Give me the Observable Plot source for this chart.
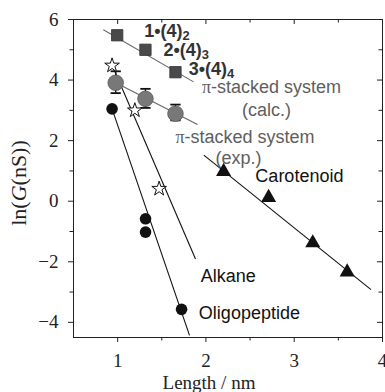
<!DOCTYPE html>
<html>
<head>
<meta charset="utf-8">
<script src="https://cdn.jsdelivr.net/npm/d3@7"></script>
<script src="https://cdn.jsdelivr.net/npm/@observablehq/plot@0.6"></script>
<style>
  body { margin: 0; background: #fff; }
  #chart svg { display: block; }
</style>
</head>
<body>
<div id="chart"></div>
<script>
// π-stacked system, calculated conductance (squares)
const calcLength = [0.995, 1.315, 1.655];
const calcLnG = [5.48, 5.0, 4.26];

// π-stacked system, measured conductance (circles with error bars)
const expLength = [0.978, 1.315, 1.655];
const expLnG = [3.91, 3.38, 2.89];
const expLow = [3.57, 3.08, 2.67];
const expHigh = [4.29, 3.71, 3.19];

// alkane (open stars)
const alkaneLength = [0.937, 1.195, 1.47];
const alkaneLnG = [4.48, 3.0, 0.41];

// oligopeptide (filled circles)
const peptideLength = [0.937, 1.316, 1.316, 1.724];
const peptideLnG = [3.05, -0.58, -1.02, -3.57];

// carotenoid (triangles)
const caroteneLength = [2.2, 2.71, 3.21, 3.60];
const caroteneLnG = [0.98, 0.12, -1.38, -2.34];

// fitted decay lines: start and end points
const fitName = ["calc", "exp", "alkane", "peptide", "carotenoid"];
const fitX1 = [0.838, 0.978, 0.937, 0.937, 1.976];
const fitY1 = [5.66, 3.91, 4.50, 3.05, 1.52];
const fitX2 = [1.86, 1.905, 1.882, 1.814, 3.87];
const fitY2 = [3.94, 2.53, -1.91, -4.43, -2.92];
const fitColor = ["#666", "#666", "#111", "#111", "#111"];

// complex labels 1•(4)2, 2•(4)3, 3•(4)4
const complexName = ["1•(4)", "2•(4)", "3•(4)"];
const complexSub = ["2", "3", "4"];
const complexX = [1.30, 1.52, 1.806];
const complexY = [5.41, 4.795, 4.17];

// series labels
const seriesText = ["π-stacked system", "(calc.)", "π-stacked system", "(exp.)", "Carotenoid", "Alkane", "Oligopeptide"];
const seriesX = [1.955, 2.408, 1.655, 2.109, 2.56, 1.94, 1.92];
const seriesY = [3.557, 2.83, 1.906, 1.213, 0.619, -2.683, -3.905];
const seriesColor = ["#5e5e5e", "#5e5e5e", "#5e5e5e", "#5e5e5e", "#111", "#111", "#111"];

// axis ticks
const xMajor = [1, 2, 3, 4];
const xMinor = [1.5, 2.5, 3.5];
const yMajor = [-4, -2, 0, 2, 4, 6];
const yMinor = [-3, -1, 1, 3, 5];

const zip = (xs, ys) => xs.map((x, i) => ({x, y: ys[i]}));
const calc = zip(calcLength, calcLnG);
const exp = expLength.map((x, i) => ({x, y: expLnG[i], lo: expLow[i], hi: expHigh[i]}));
const alkane = zip(alkaneLength, alkaneLnG);
const peptide = zip(peptideLength, peptideLnG);
const carotene = zip(caroteneLength, caroteneLnG);
const fits = fitName.map((name, i) => ({name, x1: fitX1[i], y1: fitY1[i], x2: fitX2[i], y2: fitY2[i], color: fitColor[i]}));
const complexes = complexName.map((name, i) => ({text: name + "_" + complexSub[i], x: complexX[i], y: complexY[i]}));
const series = seriesText.map((text, i) => ({text, x: seriesX[i], y: seriesY[i], color: seriesColor[i]}));

// horizontal bar used as the error-bar cap
const capSymbol = {
  draw(context, size) {
    const w = Math.sqrt(size);
    context.moveTo(-w, 0);
    context.lineTo(w, 0);
  }
};

const signed = d => d < 0 ? "\u2212" + Math.abs(d) : String(d);
const serif = "'Liberation Serif', 'Times New Roman', serif";
const sans = "'Liberation Sans', Arial, sans-serif";

const chart = Plot.plot({
  width: 385,
  height: 392,
  marginLeft: 73,
  marginRight: 3,
  marginTop: 19,
  marginBottom: 55,
  style: {background: "#fff", fontFamily: serif, color: "#222"},
  x: {domain: [0.5, 4], axis: null},
  y: {domain: [-4.5, 6], axis: null},
  marks: [
    Plot.frame({stroke: "#222"}),
    // bottom axis
    Plot.axisX(xMajor, {anchor: "bottom", tickSize: 5, tickPadding: 11, fontSize: 19, tickFormat: signed, label: null}),
    Plot.axisX(xMinor, {anchor: "bottom", tickSize: 3.5, fill: "none", label: null}),
    // top axis, ticks inward
    Plot.axisX(xMajor, {anchor: "bottom", frameAnchor: "top", tickSize: 5, fill: "none", label: null}),
    Plot.axisX(xMinor, {anchor: "bottom", frameAnchor: "top", tickSize: 3.5, fill: "none", label: null}),
    // left axis
    Plot.axisY(yMajor, {anchor: "left", tickSize: 5, tickPadding: 10, fontSize: 19, tickFormat: signed, label: null}),
    Plot.axisY(yMinor, {anchor: "left", tickSize: 3.5, fill: "none", label: null}),
    // right axis, ticks inward
    Plot.axisY(yMajor, {anchor: "left", frameAnchor: "right", tickSize: 5, fill: "none", label: null}),
    Plot.axisY(yMinor, {anchor: "left", frameAnchor: "right", tickSize: 3.5, fill: "none", label: null}),

    // fitted lines
    Plot.link(fits, {x1: "x1", y1: "y1", x2: "x2", y2: "y2", stroke: "color", strokeWidth: 1.1}),

    // error bars
    Plot.ruleX(exp, {x: "x", y1: "lo", y2: "hi", stroke: "#111", strokeWidth: 1.4}),
    Plot.dot(exp, {x: "x", y: "lo", symbol: capSymbol, r: 2.9, stroke: "#111", strokeWidth: 1.8}),
    Plot.dot(exp, {x: "x", y: "hi", symbol: capSymbol, r: 2.9, stroke: "#111", strokeWidth: 1.8}),

    // markers
    Plot.dot(calc, {x: "x", y: "y", symbol: "square", r: 6.4, fill: "#4a4a4a", stroke: "#333", strokeWidth: 0.8}),
    Plot.dot(exp, {x: "x", y: "y", r: 7.8, fill: "#787878", stroke: "#5a5a5a", strokeWidth: 0.8}),
    Plot.dot(alkane, {x: "x", y: "y", symbol: "star", r: 4.6, fill: "#fff", stroke: "#111", strokeWidth: 1}),
    Plot.dot(peptide, {x: "x", y: "y", r: 5.8, fill: "#111"}),
    Plot.dot(carotene, {x: "x", y: "y", symbol: "triangle", r: 5.6, fill: "#111"}),

    // labels
    Plot.text(complexes, {x: "x", y: "y", text: "text", textAnchor: "start", lineAnchor: "bottom",
      fontSize: 18, fontWeight: "bold", fontFamily: sans, fill: "#333"}),
    Plot.text(series, {x: "x", y: "y", text: "text", textAnchor: "start", lineAnchor: "bottom",
      fontSize: 18, fontFamily: sans, fill: "color"})
  ]
});

const svg = d3.select(chart);

// tick labels in the serif face
svg.selectAll('g[aria-label$="tick label"]')
  .style("font-family", serif)
  .attr("fill", "#222");

// subscripts and the serif π inside labels
svg.selectAll("text").each(function() {
  const t = this.textContent;
  const sel = d3.select(this);
  if (t.includes("_")) {
    const [base, sub] = t.split("_");
    sel.text(base);
    sel.append("tspan").attr("font-size", "0.72em").attr("dy", "0.22em").text(sub);
  } else if (t.startsWith("π")) {
    sel.text("");
    sel.append("tspan").attr("font-family", serif).text("π");
    sel.append("tspan").text(t.slice(1));
  }
});

// y axis title: ln(G(nS)) with italic G
const yTitle = svg.append("text")
  .attr("transform", "translate(26,183) rotate(-90)")
  .attr("text-anchor", "middle")
  .attr("font-family", serif)
  .attr("font-size", 22)
  .attr("fill", "#222");
yTitle.append("tspan").text("ln(");
yTitle.append("tspan").attr("font-style", "italic").text("G");
yTitle.append("tspan").text("(nS))");

// x axis title
svg.append("text")
  .attr("x", 209)
  .attr("y", 389)
  .attr("text-anchor", "middle")
  .attr("font-family", serif)
  .attr("font-size", 19)
  .attr("fill", "#222")
  .text("Length / nm");

document.getElementById("chart").append(chart);
</script>
</body>
</html>
